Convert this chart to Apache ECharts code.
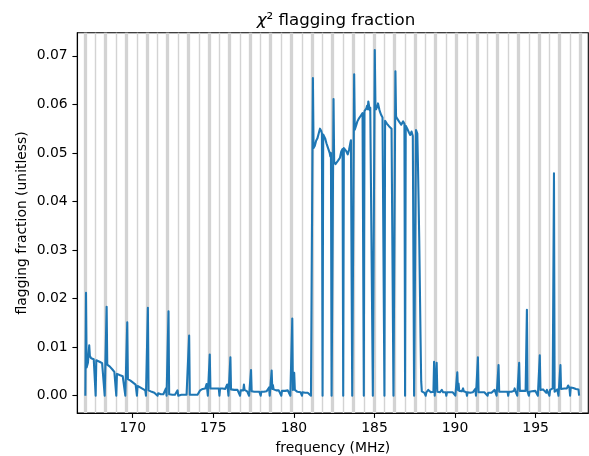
<!DOCTYPE html>
<html>
<head>
<meta charset="utf-8">
<script src="https://cdn.jsdelivr.net/npm/echarts@6/dist/echarts.min.js"></script>
<style>
  html, body { margin: 0; padding: 0; background: #fff; }
  #chart { width: 589px; height: 456px; }
</style>
</head>
<body>
<div id="chart"></div>
<script>
// ---- data ----
// coarse-channel boundaries (MHz); flagged edge channels sit around each one
const coarseEdgeMHz = [167.04, 168.32, 169.60, 170.88, 172.16, 173.44, 174.72, 176.00,
  177.28, 178.56, 179.84, 181.12, 182.40, 183.68, 184.96, 186.24, 187.52, 188.80,
  190.08, 191.36, 192.64, 193.92, 195.20, 196.48, 197.76];
// flagged centre channel of each coarse channel (MHz)
const centreFlagMHz = [167.70, 168.98, 170.26, 171.54, 172.82, 174.10, 175.38, 176.66,
  177.94, 179.22, 180.50, 181.78, 183.06, 184.34, 185.62, 186.90, 188.18, 189.46,
  190.74, 192.02, 193.30, 194.58, 195.86, 197.14];
const fineChanMHz = 0.04;   // 32 fine channels per coarse channel

const xTicks = [170, 175, 180, 185, 190, 195];
const yTicks = [0, 0.01, 0.02, 0.03, 0.04, 0.05, 0.06, 0.07];

// flagging fraction per fine channel, one row per coarse channel
const lowBandA = [
  [0,0.0212,0.0058,0.0060,0.0068,0.0085,0.0104,0.0082,0.0078,0.0077,0.0077,0.0076,0.0076,0.0075,0.0075,0.0074,0,0.0073,0.0072,0.0072,0.0071,0.0071,0.0070,0.0070,0.0069,0.0068,0.0067,0.0066,0.0065,0.0064,0,0],
  [0,0.0183,0.0064,0.0064,0.0063,0.0062,0.0060,0.0059,0.0058,0.0056,0.0054,0.0052,0.0050,0.0049,0.0048,0.0047,0,0.0045,0.0044,0.0044,0.0043,0.0043,0.0042,0.0042,0.0041,0.0041,0.0040,0.0039,0.0038,0.0037,0,0],
  [0,0.0151,0.0034,0.0033,0.0032,0.0032,0.0031,0.0030,0.0029,0.0028,0.0027,0.0026,0.0025,0.0024,0.0023,0.0022,0,0.0020,0.0019,0.0018,0.0018,0.0017,0.0016,0.0015,0.0015,0.0014,0.0013,0.0012,0.0012,0.0011,0,0],
  [0,0.0181,0.0011,0.0010,0.0010,0.0009,0.0009,0.0008,0.0008,0.0007,0.0007,0.0006,0.0006,0.0006,0.0005,0.0005,0,0.0005,0.0004,0.0004,0.0004,0.0003,0.0003,0.0003,0.0003,0.0003,0.0003,0.0003,0.0004,0.0015,0,0],
  [0,0.0174,0.0003,0.0002,0.0002,0.0002,0.0002,0.0002,0.0002,0.0002,0.0002,0.0002,0.0002,0.0002,0.0002,0.0011,0,0.0002,0.0002,0.0002,0.0002,0.0002,0.0002,0.0002,0.0002,0.0002,0.0002,0.0002,0.0002,0.0002,0,0],
  [0,0.0124,0.0002,0.0002,0.0002,0.0002,0.0002,0.0002,0.0002,0.0002,0.0002,0.0002,0.0002,0.0002,0.0002,0.0002,0,0.0006,0.0011,0.0013,0.0014,0.0014,0.0014,0.0014,0.0014,0.0014,0.0015,0.0015,0.0024,0.0014,0,0],
  [0,0.0085,0.0015,0.0015,0.0015,0.0016,0.0015,0.0015,0.0016,0.0015,0.0015,0.0015,0.0016,0.0015,0.0015,0.0015,0,0.0015,0.0016,0.0019,0.0016,0.0015,0.0015,0.0015,0.0015,0.0014,0.0014,0.0014,0.0023,0.0014,0,0],
  [0,0.0079,0.0013,0.0013,0.0012,0.0013,0.0013,0.0012,0.0012,0.0013,0.0012,0.0012,0.0012,0.0012,0.0011,0.0011,0,0.0011,0.0011,0.0011,0.0011,0.0011,0.0023,0.0012,0.0010,0.0010,0.0010,0.0009,0.0009,0.0009,0,0],
  [0,0.0053,0.0009,0.0009,0.0008,0.0008,0.0008,0.0008,0.0008,0.0008,0.0008,0.0008,0.0008,0.0008,0.0008,0.0008,0,0.0008,0.0008,0.0008,0.0008,0.0008,0.0008,0.0008,0.0008,0.0009,0.0009,0.0009,0.0010,0.0017,0,0],
  [0,0.0052,0.0014,0.0022,0.0013,0.0012,0.0012,0.0012,0.0011,0.0011,0.0011,0.0011,0.0011,0.0010,0.0010,0.0010,0,0.0010,0.0010,0.0011,0.0010,0.0010,0.0010,0.0010,0.0010,0.0010,0.0011,0.0011,0.0010,0.0010,0,0],
  [0,0.0159,0.0012,0.0010,0.0047,0.0012,0.0009,0.0008,0.0008,0.0008,0.0007,0.0007,0.0007,0.0007,0.0007,0.0007,0,0.0007,0.0007,0.0007,0.0007,0.0006,0.0006,0.0006,0.0006,0.0006,0.0005,0.0005,0.0005,0.0005,0,0]
];
const rfiBand = [
  [0,0.0654,0.0510,0.0508,0.0515,0.0520,0.0525,0.0528,0.0530,0.0532,0.0540,0.0545,0.0550,0.0548,0.0545,0.0540,0,0.0538,0.0537,0.0535,0.0530,0.0527,0.0520,0.0517,0.0512,0.0510,0.0508,0.0500,0.0493,0.0500,0,0],
  [0,0.0611,0.0482,0.0480,0.0477,0.0475,0.0474,0.0478,0.0484,0.0486,0.0488,0.0490,0.0497,0.0503,0.0505,0.0508,0,0.0510,0.0510,0.0509,0.0506,0.0503,0.0500,0.0497,0.0499,0.0506,0.0513,0.0520,0.0526,0.0530,0,0],
  [0,0.0662,0.0548,0.0550,0.0556,0.0560,0.0565,0.0567,0.0570,0.0572,0.0573,0.0576,0.0579,0.0580,0.0582,0.0584,0,0.0586,0.0587,0.0588,0.0592,0.0597,0.0590,0.0606,0.0598,0.0588,0.0593,0.0597,0.0597,0.0590,0,0],
  [0,0.0712,0.0595,0.0590,0.0588,0.0596,0.0602,0.0600,0.0590,0.0585,0.0582,0.0578,0.0575,0.0573,0.0571,0.0569,0,0.0566,0.0565,0.0562,0.0560,0.0558,0.0556,0.0555,0.0554,0.0552,0.0551,0.0550,0.0552,0.0554,0,0],
  [0,0.0668,0.0575,0.0572,0.0570,0.0568,0.0566,0.0564,0.0563,0.0560,0.0558,0.0558,0.0562,0.0565,0.0563,0.0560,0,0.0556,0.0554,0.0551,0.0549,0.0547,0.0542,0.0538,0.0537,0.0541,0.0544,0.0540,0.0535,0.0533,0,0],
  [0,0.0547,0.0545,0.0540,0.0475,0.0400,0.0320,0.0220,0.0120,0.0030,0.0009,0.0007,0.0006,0.0006,0.0006,0.0007,0,0.0007,0.0008,0.0009,0.0012,0.0009,0.0008,0.0008,0.0007,0.0008,0.0008,0.0009,0.0008,0.0070,0,0]
];
const lowBandB = [
  [0,0.0068,0.0008,0.0007,0.0007,0.0008,0.0007,0.0007,0.0008,0.0012,0.0008,0.0007,0.0007,0.0008,0.0008,0.0007,0,0.0007,0.0007,0.0007,0.0008,0.0008,0.0007,0.0007,0.0011,0.0008,0.0007,0.0007,0.0008,0.0008,0,0],
  [0,0.0048,0.0012,0.0025,0.0010,0.0008,0.0008,0.0008,0.0009,0.0010,0.0015,0.0009,0.0008,0.0007,0.0007,0.0007,0,0.0007,0.0006,0.0006,0.0007,0.0006,0.0006,0.0007,0.0007,0.0007,0.0007,0.0008,0.0008,0.0014,0,0],
  [0,0.0079,0.0007,0.0006,0.0006,0.0006,0.0007,0.0006,0.0006,0.0006,0.0006,0.0007,0.0006,0.0006,0.0006,0.0006,0,0.0006,0.0006,0.0007,0.0006,0.0006,0.0006,0.0007,0.0007,0.0008,0.0008,0.0012,0.0008,0.0008,0,0],
  [0,0.0063,0.0008,0.0008,0.0008,0.0008,0.0008,0.0009,0.0008,0.0008,0.0008,0.0008,0.0009,0.0008,0.0008,0.0008,0,0.0008,0.0008,0.0008,0.0009,0.0008,0.0009,0.0009,0.0009,0.0010,0.0015,0.0010,0.0010,0.0012,0,0],
  [0,0.0068,0.0010,0.0010,0.0009,0.0010,0.0010,0.0010,0.0009,0.0010,0.0010,0.0010,0.0010,0.0177,0.0009,0.0008,0,0.0008,0.0008,0.0009,0.0008,0.0009,0.0009,0.0009,0.0010,0.0010,0.0010,0.0011,0.0013,0.0010,0,0],
  [0,0.0083,0.0012,0.0012,0.0013,0.0012,0.0013,0.0012,0.0012,0.0012,0.0012,0.0006,0.0012,0.0012,0.0013,0.0012,0,0.0012,0.0012,0.0013,0.0013,0.0015,0.0012,0.0458,0.0008,0.0012,0.0012,0.0012,0.0013,0.0012,0,0],
  [0,0.0063,0.0014,0.0014,0.0015,0.0014,0.0014,0.0015,0.0015,0.0015,0.0016,0.0015,0.0016,0.0021,0.0020,0.0016,0,0.0017,0.0016,0.0017,0.0018,0.0016,0.0012,0.0016,0.0015,0.0014,0.0013,0.0014,0.0015,0.0013,0,0]
];

// ---- build series ----
const coarseRows = lowBandA.concat(rfiBand, lowBandB);
const lineData = [];
coarseRows.forEach(function (row, k) {
  row.forEach(function (v, i) {
    lineData.push([coarseEdgeMHz[k] + fineChanMHz * (i + 0.5), v]);
  });
});

const flagLines = [];
coarseEdgeMHz.forEach(function (f) {
  flagLines.push({ xAxis: f, lineStyle: { width: 3.3 } });
});
centreFlagMHz.forEach(function (f) {
  flagLines.push({ xAxis: f, lineStyle: { width: 1.4 } });
});

const FONT = 'DejaVu Sans';
const chart = echarts.init(document.getElementById('chart'), null, { renderer: 'canvas' });
chart.setOption({
  animation: false,
  backgroundColor: '#ffffff',
  title: {
    text: '{c|χ}² flagging fraction',
    left: 331,
    textAlign: 'center',
    top: 7,
    textStyle: {
      fontFamily: FONT, fontSize: 16.67, fontWeight: 'normal', color: '#000',
      rich: { c: { fontFamily: FONT, fontSize: 16.67, fontStyle: 'italic', color: '#000' } }
    }
  },
  grid: {
    left: 77.3, right: 0.7, top: 32.7, bottom: 43,
    outerBoundsMode: 'none', containLabel: false,
    show: true, borderColor: '#000', borderWidth: 1.1, backgroundColor: 'transparent'
  },
  xAxis: {
    type: 'value', min: 166.56, max: 198.27,
    name: 'frequency (MHz)', nameLocation: 'middle', nameGap: 28, nameMoveOverlap: false,
    nameTextStyle: { fontFamily: FONT, fontSize: 13.9, color: '#000' },
    axisLine: { show: true, onZero: false, lineStyle: { color: '#000', width: 1.1 } },
    axisTick: { show: true, inside: false, length: 4.9, customValues: xTicks, lineStyle: { color: '#000', width: 1.1 } },
    axisLabel: { customValues: xTicks, fontFamily: FONT, fontSize: 13.9, color: '#000', margin: 8 },
    splitLine: { show: false }
  },
  yAxis: {
    type: 'value', min: -0.00356, max: 0.07476,
    name: 'flagging fraction (unitless)', nameLocation: 'middle', nameGap: 48, nameMoveOverlap: false,
    nameTextStyle: { fontFamily: FONT, fontSize: 13.9, color: '#000' },
    axisLine: { show: true, onZero: false, lineStyle: { color: '#000', width: 1.1 } },
    axisTick: { show: true, inside: false, length: 4.9, customValues: yTicks, lineStyle: { color: '#000', width: 1.1 } },
    axisLabel: { customValues: yTicks, fontFamily: FONT, fontSize: 13.9, color: '#000', margin: 9.7,
      formatter: function (v) { return v.toFixed(2); } },
    splitLine: { show: false }
  },
  series: [
    {
      type: 'line', data: [], z: 1, silent: true,
      markLine: {
        silent: true, symbol: ['none', 'none'], z: 1, animation: false,
        label: { show: false }, emphasis: { disabled: true },
        lineStyle: { color: '#d3d3d3', type: 'solid', opacity: 1 },
        data: flagLines
      }
    },
    {
      type: 'line', data: lineData, z: 3, silent: true,
      showSymbol: false, symbol: 'none',
      lineStyle: { color: '#1f77b4', width: 2.08, join: 'round', cap: 'butt' },
      emphasis: { disabled: true }
    }
  ]
});
</script>
</body>
</html>
